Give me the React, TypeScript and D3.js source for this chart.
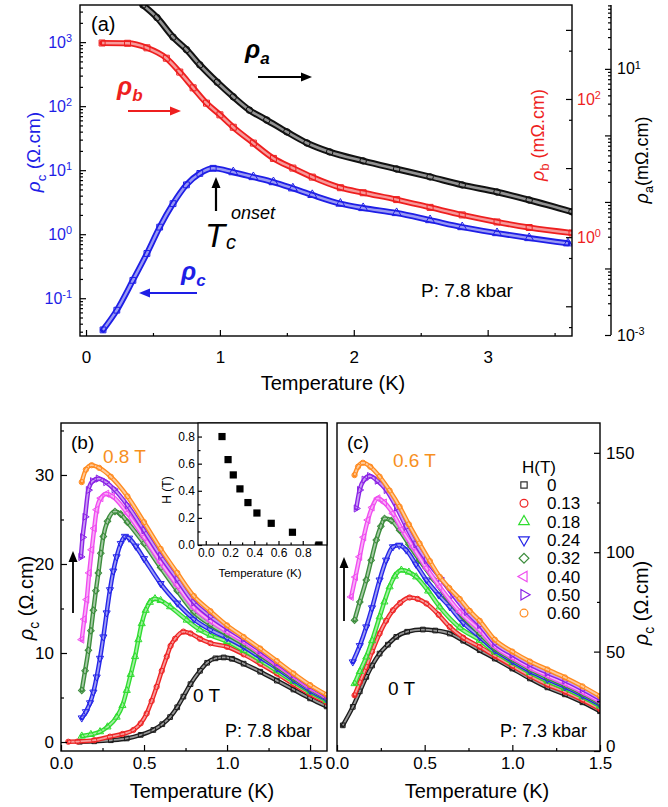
import React, { useRef, useEffect } from 'react';
import * as d3 from 'd3';

type Pt = [number, number];

// ---- panel (a): T (K) vs resistivity, each on its own axis ----
const aRhoA: Pt[] = [[0.425, 91], [0.53, 59], [0.65, 30], [0.75, 19.5], [0.85, 11.5], [0.98, 6.3], [1.1, 3.8], [1.22, 2.4], [1.35, 1.7], [1.5, 1.13], [1.65, 0.77], [1.82, 0.565], [2.07, 0.414], [2.32, 0.313], [2.57, 0.238], [2.81, 0.18], [3.07, 0.141], [3.31, 0.107], [3.63, 0.071]];
const aRhoB: Pt[] = [[0.12, 646], [0.31, 640], [0.455, 550], [0.6, 389], [0.7, 245], [0.8, 145], [0.9, 87], [1.0, 59], [1.1, 39], [1.25, 23], [1.4, 13.8], [1.545, 10], [1.69, 7.4], [1.9, 5.2], [2.07, 4.4], [2.32, 3.5], [2.57, 2.7], [2.81, 2.1], [3.07, 1.66], [3.31, 1.38], [3.63, 1.15]];
const aRhoC: Pt[] = [[0.127, 0.032], [0.23, 0.065], [0.35, 0.19], [0.455, 0.5], [0.55, 1.29], [0.65, 3.0], [0.75, 5.9], [0.85, 8.9], [0.95, 10.7], [1.1, 9.3], [1.25, 7.8], [1.4, 6.5], [1.545, 5.2], [1.69, 4.1], [1.9, 3.0], [2.07, 2.56], [2.32, 2.14], [2.57, 1.66], [2.81, 1.29], [3.07, 1.04], [3.31, 0.87], [3.6, 0.72]];
const aTempTicks = [0, 1, 2, 3];

// ---- panel (b): rho_c (Ohm.cm) at 7.8 kbar, 0 T ... 0.8 T ----
const bBlack: Pt[] = [[0.114, 0.03], [0.2, 0.08], [0.3, 0.2], [0.396, 0.4], [0.48, 0.8], [0.556, 1.35], [0.61, 2.0], [0.657, 2.8], [0.7, 3.9], [0.737, 5.1], [0.78, 6.5], [0.837, 8.0], [0.88, 8.9], [0.93, 9.4], [0.98, 9.5], [1.03, 9.35], [1.1, 8.8], [1.2, 7.9], [1.3, 6.9], [1.4, 5.9], [1.5, 4.9], [1.6, 4.0]];
const bRed: Pt[] = [[0.044, 0.03], [0.1, 0.05], [0.2, 0.2], [0.295, 0.6], [0.37, 0.9], [0.436, 1.35], [0.48, 2.1], [0.516, 3.2], [0.546, 4.6], [0.576, 6.2], [0.607, 8.0], [0.637, 9.6], [0.66, 10.8], [0.687, 11.6], [0.737, 12.4], [0.78, 12.2], [0.837, 11.6], [0.9, 11.1], [1.0, 10.7], [1.1, 9.85], [1.2, 8.8], [1.3, 7.7], [1.4, 6.5], [1.5, 5.4], [1.6, 4.45]];
const bGreen: Pt[] = [[0.125, 0.67], [0.18, 0.85], [0.235, 1.16], [0.28, 1.7], [0.335, 2.8], [0.37, 4.1], [0.396, 5.8], [0.42, 7.6], [0.446, 9.6], [0.466, 11.5], [0.486, 13.3], [0.51, 14.8], [0.535, 15.7], [0.566, 16.1], [0.6, 15.9], [0.657, 15.2], [0.757, 13.7], [0.837, 12.6], [0.9, 12.0], [1.0, 11.3], [1.1, 10.3], [1.2, 9.2], [1.3, 8.0], [1.4, 6.8], [1.5, 5.65], [1.6, 4.65]];
const bBlue: Pt[] = [[0.125, 2.7], [0.15, 3.4], [0.175, 4.4], [0.195, 5.6], [0.215, 7.3], [0.235, 9.4], [0.255, 11.8], [0.275, 14.5], [0.295, 17.1], [0.315, 19.2], [0.335, 20.8], [0.36, 22.3], [0.385, 23.1], [0.41, 22.9], [0.45, 22.0], [0.5, 20.6], [0.6, 17.8], [0.7, 15.6], [0.8, 13.8], [0.9, 12.6], [1.0, 11.7], [1.1, 10.7], [1.2, 9.5], [1.3, 8.3], [1.4, 7.0], [1.5, 5.8], [1.6, 4.8]];
const bDkGreen: Pt[] = [[0.125, 5.8], [0.145, 8.0], [0.165, 10.3], [0.18, 12.5], [0.195, 14.8], [0.21, 17.0], [0.225, 19.0], [0.24, 21.2], [0.255, 23.1], [0.28, 24.8], [0.325, 25.9], [0.36, 25.6], [0.4, 24.7], [0.5, 22.3], [0.6, 19.6], [0.7, 17.0], [0.8, 14.6], [0.9, 13.2], [1.0, 12.1], [1.1, 11.0], [1.2, 9.8], [1.3, 8.5], [1.4, 7.2], [1.5, 6.0], [1.6, 4.95]];
const bMagenta: Pt[] = [[0.125, 11.5], [0.14, 13.8], [0.155, 16.0], [0.17, 19.0], [0.185, 21.6], [0.2, 24.0], [0.215, 26.1], [0.24, 27.4], [0.275, 27.9], [0.31, 27.6], [0.4, 25.7], [0.5, 23.0], [0.6, 20.2], [0.7, 17.6], [0.8, 15.1], [0.9, 13.6], [1.0, 12.4], [1.1, 11.3], [1.2, 10.0], [1.3, 8.7], [1.4, 7.4], [1.5, 6.1], [1.6, 5.05]];
const bPurple: Pt[] = [[0.12, 20.8], [0.13, 23.0], [0.145, 25.3], [0.165, 28.3], [0.19, 29.3], [0.225, 29.6], [0.27, 29.2], [0.32, 28.4], [0.4, 26.6], [0.5, 23.8], [0.6, 20.9], [0.7, 18.3], [0.8, 15.7], [0.9, 14.1], [1.0, 12.8], [1.1, 11.6], [1.2, 10.3], [1.3, 8.9], [1.4, 7.6], [1.5, 6.3], [1.6, 5.2]];
const bOrange: Pt[] = [[0.125, 29.2], [0.15, 30.6], [0.185, 31.1], [0.23, 30.8], [0.3, 29.8], [0.4, 27.6], [0.5, 24.7], [0.6, 21.7], [0.7, 19.0], [0.8, 16.4], [0.9, 14.7], [1.0, 13.1], [1.1, 11.8], [1.2, 10.5], [1.3, 9.1], [1.4, 7.7], [1.5, 6.4], [1.6, 5.3]];
const bSeries = [bBlack, bRed, bGreen, bBlue, bDkGreen, bMagenta, bPurple, bOrange];

// inset of (b): H (T) vs onset temperature (K)
const insetT = [0.134, 0.184, 0.227, 0.282, 0.348, 0.422, 0.54, 0.715, 0.934];
const insetH = [0.8, 0.63, 0.517, 0.414, 0.313, 0.236, 0.16, 0.094, 0.0];

// ---- panel (c): rho_c (Ohm.cm) at 7.3 kbar ----
const cBlack: Pt[] = [[0.033, 12.9], [0.09, 22.2], [0.13, 30], [0.167, 37.3], [0.2, 43], [0.243, 49], [0.29, 53.5], [0.338, 57.4], [0.4, 60], [0.49, 61.1], [0.56, 60.6], [0.643, 59.1], [0.72, 55.5], [0.814, 50.7], [0.9, 46.5], [1.0, 41.5], [1.1, 36.5], [1.2, 32], [1.3, 28.5], [1.4, 24.5], [1.5, 20]];
const cRed: Pt[] = [[0.1, 28], [0.13, 34.5], [0.167, 42.3], [0.2, 50], [0.243, 59.1], [0.28, 65.5], [0.319, 70.8], [0.36, 74.5], [0.414, 77.2], [0.46, 76.5], [0.51, 74.2], [0.58, 68.5], [0.643, 62.4], [0.72, 57], [0.814, 52.4], [0.9, 47.9], [1.0, 42.8], [1.1, 37.8], [1.2, 33.4], [1.3, 29.8], [1.4, 25.7], [1.5, 21.1]];
const cGreen: Pt[] = [[0.1, 33.9], [0.13, 40], [0.167, 47.3], [0.2, 55.5], [0.243, 67.5], [0.27, 75], [0.3, 82.6], [0.33, 88], [0.367, 91], [0.41, 90], [0.452, 87.6], [0.52, 80.5], [0.586, 72.5], [0.7, 62], [0.814, 55.7], [0.9, 49.8], [1.0, 44.5], [1.1, 39.5], [1.2, 35.2], [1.3, 31.5], [1.4, 27.3], [1.5, 22.6]];
const cBlue: Pt[] = [[0.09, 44.8], [0.13, 53], [0.167, 62.4], [0.2, 72], [0.243, 86], [0.28, 96], [0.319, 102.7], [0.355, 103.5], [0.395, 101.1], [0.45, 94], [0.51, 86], [0.58, 78.5], [0.643, 72.5], [0.72, 64.5], [0.814, 57.4], [0.9, 50.8], [1.0, 45.3], [1.1, 40.3], [1.2, 36.1], [1.3, 32.3], [1.4, 28.1], [1.5, 23.4]];
const cDkGreen: Pt[] = [[0.1, 65.8], [0.13, 75], [0.167, 86], [0.195, 96], [0.224, 106.1], [0.25, 113], [0.271, 117], [0.31, 116], [0.357, 111.1], [0.41, 104], [0.471, 96], [0.55, 86.5], [0.624, 77.5], [0.72, 67.5], [0.814, 59.1], [0.9, 51.7], [1.0, 46.2], [1.1, 41.2], [1.2, 37], [1.3, 33.2], [1.4, 28.9], [1.5, 24.1]];
const cMagenta: Pt[] = [[0.081, 77.5], [0.105, 87.5], [0.129, 97.7], [0.152, 107.5], [0.176, 116.2], [0.2, 122.5], [0.233, 127.1], [0.27, 125], [0.319, 119.5], [0.37, 111.5], [0.433, 102.7], [0.51, 92], [0.586, 82.6], [0.7, 70], [0.814, 60.8], [0.9, 52.7], [1.0, 47], [1.1, 42], [1.2, 37.9], [1.3, 34], [1.4, 29.7], [1.5, 24.9]];
const cPurple: Pt[] = [[0.11, 122], [0.129, 131.3], [0.155, 136.5], [0.186, 138.3], [0.23, 136], [0.281, 131.3], [0.34, 122.5], [0.395, 112.8], [0.45, 104], [0.51, 96], [0.59, 87], [0.662, 78.5], [0.74, 70], [0.814, 63.5], [0.9, 54.3], [1.0, 48.5], [1.1, 43.5], [1.2, 39.4], [1.3, 35.5], [1.4, 31.1], [1.5, 26.2]];
const cOrange: Pt[] = [[0.1, 138.8], [0.12, 143], [0.148, 145], [0.19, 143], [0.243, 138], [0.3, 131], [0.357, 122.9], [0.41, 114], [0.471, 104.4], [0.53, 95.5], [0.586, 87.6], [0.64, 82], [0.7, 76.5], [0.757, 70.5], [0.814, 65.5], [0.9, 56], [1.0, 50], [1.1, 45], [1.2, 41], [1.3, 37], [1.4, 32.5], [1.5, 27.5]];
const cSeries = [cBlack, cRed, cGreen, cBlue, cDkGreen, cMagenta, cPurple, cOrange];
const fieldLabels = ['0', '0.13', '0.18', '0.24', '0.32', '0.40', '0.50', '0.60'];

const FONT = "'Liberation Sans', Arial, Helvetica, sans-serif";
const colors = ['#1c1c1c', '#ee2424', '#2fdc2f', '#2424e8', '#3c8c3c', '#f04cf0', '#8a22e6', '#ff8a1e'];
const shapes = [
  { type: d3.symbolSquare, rot: 0 },
  { type: d3.symbolCircle, rot: 0 },
  { type: d3.symbolTriangle, rot: 0 },
  { type: d3.symbolTriangle, rot: 180 },
  { type: d3.symbolSquare, rot: 45 },
  { type: d3.symbolTriangle, rot: -90 },
  { type: d3.symbolTriangle, rot: 90 },
  { type: d3.symbolCircle, rot: 0 },
];

function band(g, pts, x, y, color, w) {
  const line = d3.line<Pt>().x(d => x(d[0])).y(d => y(d[1])).curve(d3.curveMonotoneX);
  g.append('path').attr('d', line(pts)).attr('fill', 'none').attr('stroke', color)
    .attr('stroke-width', w).attr('stroke-linecap', 'round').attr('stroke-linejoin', 'round');
  g.append('path').attr('d', line(pts)).attr('fill', 'none').attr('stroke', '#fff')
    .attr('stroke-width', w * 0.4).attr('stroke-opacity', 0.55);
}

function markers(g, pts, x, y, color, shape, size) {
  const sym = d3.symbol().type(shape.type).size(size);
  g.selectAll(null).data(pts).join('path')
    .attr('transform', d => `translate(${x(d[0])},${y(d[1])}) rotate(${shape.rot})`)
    .attr('d', sym).attr('fill', 'none').attr('stroke', color).attr('stroke-width', 1);
}

function arrow(g, x1, y1, x2, y2, color, w = 2) {
  const ang = Math.atan2(y2 - y1, x2 - x1);
  const hl = 11, hw = 4.5;
  const bx = x2 - hl * Math.cos(ang), by = y2 - hl * Math.sin(ang);
  g.append('line').attr('x1', x1).attr('y1', y1).attr('x2', bx).attr('y2', by)
    .attr('stroke', color).attr('stroke-width', w);
  const px = -Math.sin(ang) * hw, py = Math.cos(ang) * hw;
  g.append('path').attr('d', `M${x2},${y2}L${bx + px},${by + py}L${bx - px},${by - py}Z`).attr('fill', color);
}

function styleAxis(g, size, color) {
  g.attr('font-size', size).attr('font-family', FONT);
  g.select('.domain').remove();
  g.selectAll('.tick line').attr('stroke', '#000').attr('stroke-width', 1.2);
  g.selectAll('.tick text').attr('fill', color);
}

// turn decade tick labels into 10^n, keep only the exponents listed
function powerLabels(g, keep) {
  g.selectAll('.tick text').each(function (d) {
    const t = d3.select(this);
    const e = Math.round(Math.log10(d));
    t.text(null);
    if (!keep.includes(e)) return;
    t.append('tspan').text('10');
    t.append('tspan').attr('dy', '-0.5em').attr('font-size', '0.68em').text(String(e));
  });
}

function logMinor(scale, mults) {
  const [a, b] = scale.domain();
  const out = [];
  for (let k = Math.floor(Math.log10(a)); k <= Math.ceil(Math.log10(b)); k++) {
    for (const m of mults) {
      const v = m * 10 ** k;
      if (v >= a && v <= b) out.push(v);
    }
  }
  return out;
}

function rhoText(g, x, y, sub, rest, color, size, rot = -90) {
  const t = g.append('text').attr('transform', `translate(${x},${y}) rotate(${rot})`)
    .attr('text-anchor', 'middle').attr('fill', color).attr('font-size', size).attr('font-family', FONT);
  t.append('tspan').attr('font-style', 'italic').text('ρ');
  t.append('tspan').attr('font-size', size * 0.7).attr('dy', size * 0.3).text(sub);
  t.append('tspan').attr('dy', -size * 0.3).text(rest);
  return t;
}

function label(g, x, y, text, size, color = '#000', anchor = 'start') {
  return g.append('text').attr('x', x).attr('y', y).attr('font-size', size).attr('fill', color)
    .attr('text-anchor', anchor).attr('font-family', FONT).text(text);
}

function drawPanelA(svg) {
  const A = { l: 80, r: 572, t: 5, b: 336 };
  const blue = '#1e1ee6', red = '#ee1f1f';
  const x = d3.scaleLinear().domain([-0.045, 3.63]).range([A.l, A.r]);
  const yC = d3.scaleLog().domain([10 ** -1.59, 10 ** 3.58]).range([A.b, A.t]);
  const yB = d3.scaleLog().domain([10 ** -1.43, 10 ** 3.36]).range([A.b, A.t]);
  const yA = d3.scaleLog().domain([1e-3, 10 ** 1.96]).range([335, A.t]);

  svg.append('clipPath').attr('id', 'clipA').append('rect')
    .attr('x', A.l).attr('y', A.t).attr('width', A.r - A.l).attr('height', A.b - A.t);
  const data = svg.append('g').attr('clip-path', 'url(#clipA)');

  band(data, aRhoC, x, yC, blue, 6);
  markers(data, aRhoC.filter(d => d[0] < 1), x, yC, blue, shapes[0], 34);
  markers(data, aRhoC.filter(d => d[0] >= 1), x, yC, blue, shapes[2], 34);
  band(data, aRhoB, x, yB, red, 6);
  markers(data, aRhoB, x, yB, red, shapes[0], 36);
  band(data, aRhoA, x, yA, '#111', 6.5);
  markers(data, aRhoA, x, yA, '#111', shapes[1], 34);

  // x axis
  const gx = svg.append('g').attr('transform', `translate(0,${A.b})`)
    .call(d3.axisBottom(x).tickValues(aTempTicks).tickSize(-6).tickPadding(15).tickFormat(d3.format('d')));
  styleAxis(gx, 17, '#000');
  const gxm = svg.append('g').attr('transform', `translate(0,${A.b})`)
    .call(d3.axisBottom(x).tickValues([0.5, 1.5, 2.5, 3.5]).tickSize(-3).tickFormat(() => ''));
  styleAxis(gxm, 17, '#000');

  // left: rho_c
  const gl = svg.append('g').attr('transform', `translate(${A.l},0)`)
    .call(d3.axisLeft(yC).tickValues([0.1, 1, 10, 100, 1000]).tickSize(-6).tickPadding(8));
  styleAxis(gl, 16, blue);
  powerLabels(gl, [-1, 0, 1, 2, 3]);
  const glm = svg.append('g').attr('transform', `translate(${A.l},0)`)
    .call(d3.axisLeft(yC).tickValues(logMinor(yC, [2, 3, 4, 5, 6, 7, 8, 9])).tickSize(-3).tickFormat(() => ''));
  styleAxis(glm, 16, blue);

  // right: rho_b
  const gr = svg.append('g').attr('transform', `translate(${A.r},0)`)
    .call(d3.axisRight(yB).tickValues([0.1, 1, 10, 100, 1000]).tickSize(-6).tickPadding(5));
  styleAxis(gr, 16, red);
  powerLabels(gr, [0, 2]);
  const grm = svg.append('g').attr('transform', `translate(${A.r},0)`)
    .call(d3.axisRight(yB).tickValues(logMinor(yB, [5])).tickSize(-3).tickFormat(() => ''));
  styleAxis(grm, 16, red);

  // frame
  svg.append('rect').attr('x', A.l).attr('y', A.t).attr('width', A.r - A.l).attr('height', A.b - A.t)
    .attr('fill', 'none').attr('stroke', '#000').attr('stroke-width', 1.4);

  // outer axis: rho_a
  const ga = svg.append('g').attr('transform', 'translate(611,0)')
    .call(d3.axisRight(yA).tickValues([1e-3, 1e-2, 1e-1, 1, 10]).tickSize(-6).tickPadding(6));
  styleAxis(ga, 16, '#000');
  powerLabels(ga, [-3, 1]);
  const gam = svg.append('g').attr('transform', 'translate(611,0)')
    .call(d3.axisRight(yA).tickValues(logMinor(yA, [2, 3, 4, 5, 6, 7, 8, 9])).tickSize(-3).tickFormat(() => ''));
  styleAxis(gam, 16, '#000');
  svg.append('line').attr('x1', 611).attr('x2', 611).attr('y1', A.t).attr('y2', 335)
    .attr('stroke', '#000').attr('stroke-width', 1.4);

  // titles
  label(svg, 333, 390, 'Temperature (K)', 20, '#000', 'middle');
  rhoText(svg, 40, 152, 'c', ' (Ω.cm)', blue, 19);
  rhoText(svg, 544, 135, 'b', ' (mΩ.cm)', red, 18);
  rhoText(svg, 648, 160, 'a', '(mΩ.cm)', '#000', 18);

  // annotations
  label(svg, 91, 31, '(a)', 20);
  const ra = svg.append('text').attr('x', 245).attr('y', 58).attr('font-family', FONT)
    .attr('font-size', 25).attr('font-weight', 'bold').attr('font-style', 'italic').attr('fill', '#000');
  ra.append('tspan').text('ρ');
  ra.append('tspan').attr('font-size', 17).attr('dy', 6).text('a');
  arrow(svg, 258, 77, 312, 77, '#000', 2);
  const rb = svg.append('text').attr('x', 117).attr('y', 95).attr('font-family', FONT)
    .attr('font-size', 25).attr('font-weight', 'bold').attr('font-style', 'italic').attr('fill', red);
  rb.append('tspan').text('ρ');
  rb.append('tspan').attr('font-size', 17).attr('dy', 6).text('b');
  arrow(svg, 128, 111, 181, 111, red, 2);
  const rc = svg.append('text').attr('x', 181).attr('y', 280).attr('font-family', FONT)
    .attr('font-size', 25).attr('font-weight', 'bold').attr('font-style', 'italic').attr('fill', blue);
  rc.append('tspan').text('ρ');
  rc.append('tspan').attr('font-size', 17).attr('dy', 6).text('c');
  arrow(svg, 197, 293, 139, 293, blue, 2);

  // T_c^onset marker
  arrow(svg, 216, 211, 216, 177, '#000', 2.2);
  label(svg, 205, 247, 'T', 33).attr('font-style', 'italic');
  label(svg, 226, 249, 'c', 20).attr('font-style', 'italic');
  label(svg, 231, 219, 'onset', 18).attr('font-style', 'italic');
  label(svg, 421, 297, 'P: 7.8 kbar', 19);
}

function drawPanelB(svg) {
  const B = { l: 61, r: 327, t: 423, b: 751 };
  const x = d3.scaleLinear().domain([0, 1.602]).range([B.l, B.r]);
  const y = d3.scaleLinear().domain([-1.01, 35.84]).range([B.b, B.t]);

  svg.append('clipPath').attr('id', 'clipB').append('rect')
    .attr('x', B.l).attr('y', B.t).attr('width', B.r - B.l).attr('height', B.b - B.t);
  const data = svg.append('g').attr('clip-path', 'url(#clipB)');
  bSeries.forEach((pts, i) => {
    band(data, pts, x, y, colors[i], 4.5);
    markers(data, pts, x, y, colors[i], shapes[i], 22);
  });

  const gx = svg.append('g').attr('transform', `translate(0,${B.b})`)
    .call(d3.axisBottom(x).tickValues([0, 0.5, 1, 1.5]).tickSize(-6).tickPadding(6).tickFormat(d3.format('.1f')));
  styleAxis(gx, 17, '#000');
  const gxm = svg.append('g').attr('transform', `translate(0,${B.b})`)
    .call(d3.axisBottom(x).tickValues([0.25, 0.75, 1.25]).tickSize(-3).tickFormat(() => ''));
  styleAxis(gxm, 17, '#000');
  const gy = svg.append('g').attr('transform', `translate(${B.l},0)`)
    .call(d3.axisLeft(y).tickValues([0, 10, 20, 30]).tickSize(-6).tickPadding(7));
  styleAxis(gy, 17, '#000');
  const gym = svg.append('g').attr('transform', `translate(${B.l},0)`)
    .call(d3.axisLeft(y).tickValues([5, 15, 25, 35]).tickSize(-3).tickFormat(() => ''));
  styleAxis(gym, 17, '#000');

  svg.append('rect').attr('x', B.l).attr('y', B.t).attr('width', B.r - B.l).attr('height', B.b - B.t)
    .attr('fill', 'none').attr('stroke', '#000').attr('stroke-width', 1.4);

  label(svg, 202, 798, 'Temperature (K)', 20, '#000', 'middle');
  rhoText(svg, 33, 598, 'c', ' (Ω.cm)', '#000', 20);
  label(svg, 71, 449, '(b)', 19);
  label(svg, 103, 463, '0.8 T', 19, '#f7901e');
  label(svg, 193, 702, '0 T', 19);
  label(svg, 225, 737, 'P: 7.8 kbar', 18);
  arrow(svg, 73, 613, 73, 551, '#000', 1.8);

  // inset: H vs T
  const I = { l: 198, r: 327, t: 423, b: 545 };
  const xi = d3.scaleLinear().domain([-0.064, 1.0]).range([I.l, I.r]);
  const yi = d3.scaleLinear().domain([0, 0.9]).range([I.b, I.t]);
  svg.append('rect').attr('x', I.l).attr('y', I.t).attr('width', I.r - I.l).attr('height', I.b - I.t)
    .attr('fill', '#fff');
  svg.append('clipPath').attr('id', 'clipI').append('rect')
    .attr('x', I.l).attr('y', I.t).attr('width', I.r - I.l).attr('height', I.b - I.t);
  svg.append('g').attr('clip-path', 'url(#clipI)')
    .selectAll('rect').data(insetT.map((t, i) => [t, insetH[i]])).join('rect')
    .attr('x', d => xi(d[0]) - 3.6).attr('y', d => yi(d[1]) - 3.6)
    .attr('width', 7.2).attr('height', 7.2).attr('fill', '#000');
  const ix = svg.append('g').attr('transform', `translate(0,${I.b})`)
    .call(d3.axisBottom(xi).tickValues([0, 0.2, 0.4, 0.6, 0.8]).tickSize(-4).tickPadding(3).tickFormat(d3.format('.1f')));
  styleAxis(ix, 12, '#000');
  const ixm = svg.append('g').attr('transform', `translate(0,${I.b})`)
    .call(d3.axisBottom(xi).tickValues([0.1, 0.3, 0.5, 0.7, 0.9]).tickSize(-2.5).tickFormat(() => ''));
  styleAxis(ixm, 12, '#000');
  const iy = svg.append('g').attr('transform', `translate(${I.l},0)`)
    .call(d3.axisLeft(yi).tickValues([0, 0.2, 0.4, 0.6, 0.8]).tickSize(-4).tickPadding(3).tickFormat(d3.format('.1f')));
  styleAxis(iy, 12, '#000');
  const iym = svg.append('g').attr('transform', `translate(${I.l},0)`)
    .call(d3.axisLeft(yi).tickValues([0.1, 0.3, 0.5, 0.7]).tickSize(-2.5).tickFormat(() => ''));
  styleAxis(iym, 12, '#000');
  svg.append('rect').attr('x', I.l).attr('y', I.t).attr('width', I.r - I.l).attr('height', I.b - I.t)
    .attr('fill', 'none').attr('stroke', '#000').attr('stroke-width', 1.2);
  label(svg, 260, 577, 'Temperature (K)', 11.5, '#000', 'middle');
  svg.append('text').attr('transform', 'translate(171,490) rotate(-90)').attr('text-anchor', 'middle')
    .attr('font-size', 12).attr('font-family', FONT).text('H (T)');
}

function drawPanelC(svg) {
  const C = { l: 337, r: 600, t: 423, b: 751 };
  const x = d3.scaleLinear().domain([0, 1.5]).range([C.l, C.r]);
  const y = d3.scaleLinear().domain([0, 165]).range([C.b, C.t]);

  svg.append('clipPath').attr('id', 'clipC').append('rect')
    .attr('x', C.l).attr('y', C.t).attr('width', C.r - C.l).attr('height', C.b - C.t);
  const data = svg.append('g').attr('clip-path', 'url(#clipC)');
  cSeries.forEach((pts, i) => {
    band(data, pts, x, y, colors[i], 4.5);
    markers(data, pts, x, y, colors[i], shapes[i], 22);
  });

  const gx = svg.append('g').attr('transform', `translate(0,${C.b})`)
    .call(d3.axisBottom(x).tickValues([0, 0.5, 1, 1.5]).tickSize(-6).tickPadding(6).tickFormat(d3.format('.1f')));
  styleAxis(gx, 17, '#000');
  const gxm = svg.append('g').attr('transform', `translate(0,${C.b})`)
    .call(d3.axisBottom(x).tickValues([0.25, 0.75, 1.25]).tickSize(-3).tickFormat(() => ''));
  styleAxis(gxm, 17, '#000');
  const gy = svg.append('g').attr('transform', `translate(${C.r},0)`)
    .call(d3.axisRight(y).tickValues([0, 50, 100, 150]).tickSize(-6).tickPadding(6));
  styleAxis(gy, 17, '#000');
  // the "0" label sits just above the x tick "1.5"
  gy.selectAll('.tick text').filter(d => d === 0).attr('dy', '0.05em');
  const gym = svg.append('g').attr('transform', `translate(${C.r},0)`)
    .call(d3.axisRight(y).tickValues([25, 75, 125]).tickSize(-3).tickFormat(() => ''));
  styleAxis(gym, 17, '#000');

  svg.append('rect').attr('x', C.l).attr('y', C.t).attr('width', C.r - C.l).attr('height', C.b - C.t)
    .attr('fill', 'none').attr('stroke', '#000').attr('stroke-width', 1.4);

  label(svg, 477, 798, 'Temperature (K)', 20, '#000', 'middle');
  rhoText(svg, 648, 603, 'c', ' (Ω.cm)', '#000', 20);
  label(svg, 347, 449, '(c)', 19);
  label(svg, 393, 467, '0.6 T', 19, '#f7901e');
  label(svg, 388, 695, '0 T', 19);
  label(svg, 500, 737, 'P: 7.3 kbar', 18);
  arrow(svg, 344, 621, 344, 557, '#000', 1.8);

  // legend
  label(svg, 522, 473, 'H(T)', 17);
  fieldLabels.forEach((f, i) => {
    const cy = 485 + i * 18.3;
    const sym = d3.symbol().type(shapes[i].type).size(i === 0 ? 40 : 48);
    svg.append('path').attr('d', sym())
      .attr('transform', `translate(524,${cy}) rotate(${shapes[i].rot})`)
      .attr('fill', 'none').attr('stroke', i === 0 ? '#333' : colors[i]).attr('stroke-width', 1.2);
    label(svg, 547, cy + 6, f, 17);
  });
}

export default function App() {
  const ref = useRef<SVGSVGElement>(null);

  useEffect(() => {
    const svg = d3.select(ref.current);
    svg.selectAll('*').remove();
    svg.append('rect').attr('width', 668).attr('height', 807).attr('fill', '#fff');
    drawPanelA(svg);
    drawPanelB(svg);
    drawPanelC(svg);
  }, []);

  return (
    <svg ref={ref} width={668} height={807}
      style={{ position: 'absolute', left: 0, top: 0, fontFamily: FONT }} />
  );
}
